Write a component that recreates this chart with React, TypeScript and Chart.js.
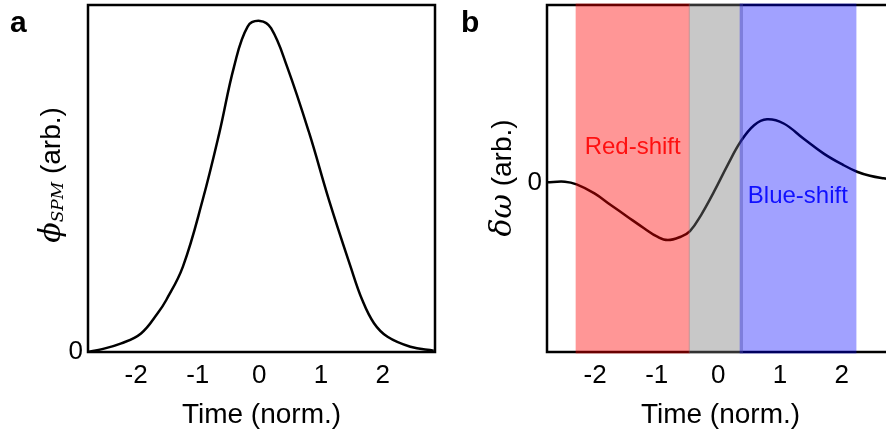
import React, { useEffect, useRef } from "react";
import { Chart, registerables } from "chart.js";

Chart.register(...registerables);

// Shared time axis
const TIME_MIN = -2.78;
const TIME_MAX = 2.85;
const TIME_TICKS = [-2, -1, 0, 1, 2];

// Panel a: self-phase-modulation phase vs time
const TIME_A = [-2.78, -2.57, -2.24, -1.92, -1.65, -1.51, -1.24, -0.92, -0.65, -0.41, -0.19, 0.01, 0.19, 0.45, 0.81, 1.13, 1.48, 1.67, 1.86, 2.08, 2.45, 2.83];
const PHI_SPM = [0, 0.008, 0.026, 0.056, 0.117, 0.157, 0.258, 0.459, 0.661, 0.862, 0.983, 1.0, 0.978, 0.862, 0.661, 0.459, 0.258, 0.157, 0.087, 0.046, 0.016, 0.004];
const PHI_MAX = 1.048;

// Panel b: instantaneous frequency shift vs time
const TIME_B = [-2.79, -2.49, -2.3, -2.01, -1.74, -1.47, -1.2, -0.99, -0.82, -0.61, -0.46, -0.28, -0.07, 0.15, 0.36, 0.58, 0.79, 1.06, 1.38, 1.71, 2.03, 2.25, 2.46, 2.68, 2.86];
const DELTA_OMEGA = [0.002, 0.006, -0.01, -0.063, -0.133, -0.202, -0.27, -0.319, -0.339, -0.319, -0.286, -0.191, -0.053, 0.104, 0.242, 0.34, 0.375, 0.35, 0.261, 0.172, 0.104, 0.065, 0.041, 0.026, 0.018];
const DW_MIN = -1;
const DW_MAX = 1.05;

// Shaded regions of panel b (time ranges)
const BAND_START = [-2.315, -0.48, 0.346];
const BAND_END = [-0.465, 0.4, 2.24];
const BAND_FILLS = ["rgba(255,0,0,0.41)", "rgba(122,122,122,0.41)", "rgba(0,0,255,0.37)"];

// Region labels in data coordinates
const REGION_TEXT = ["Red-shift", "Blue-shift"];
const REGION_T = [-1.39, 1.29];
const REGION_V = [0.207, -0.083];
const REGION_COLORS = ["#ff1010", "#1010ff"];

const SANS = '"Liberation Sans", Arial, sans-serif';
const SERIF = '"DejaVu Serif", "Liberation Serif", serif';

type Seg = { text: string; font: string; dy?: number };

function drawRotatedTitle(ctx: CanvasRenderingContext2D, cx: number, cy: number, segs: Seg[]) {
  ctx.save();
  ctx.translate(cx, cy);
  ctx.rotate(-Math.PI / 2);
  ctx.fillStyle = "#000";
  ctx.textBaseline = "middle";
  ctx.textAlign = "left";
  let total = 0;
  const widths = segs.map((s) => {
    ctx.font = s.font;
    const w = ctx.measureText(s.text).width;
    total += w;
    return w;
  });
  let x = -total / 2;
  segs.forEach((s, i) => {
    ctx.font = s.font;
    ctx.fillText(s.text, x, s.dy || 0);
    x += widths[i];
  });
  ctx.restore();
}

const framePlugin = {
  id: "frame",
  beforeDatasetsDraw(chart: any) {
    const { ctx, chartArea: a } = chart;
    ctx.save();
    ctx.strokeStyle = "#000";
    ctx.lineWidth = 2.5;
    ctx.strokeRect(a.left, a.top, a.right - a.left, a.bottom - a.top);
    ctx.restore();
  },
};

function baseOptions(yMin: number, yMax: number, yAxisWidth: number, rightPad: number) {
  return {
    responsive: false,
    animation: false,
    events: [],
    layout: { padding: { left: 0, right: rightPad, top: 5, bottom: 0 } },
    plugins: { legend: { display: false }, tooltip: { enabled: false } },
    scales: {
      x: {
        type: "linear",
        min: TIME_MIN,
        max: TIME_MAX,
        grid: { display: false, drawTicks: false },
        border: { display: false },
        afterBuildTicks: (s: any) => {
          s.ticks = TIME_TICKS.map((v) => ({ value: v }));
        },
        afterFit: (s: any) => {
          s.height = 83;
          s.paddingLeft = 0;
          s.paddingRight = 0;
        },
        ticks: {
          autoSkip: false,
          maxRotation: 0,
          padding: 8,
          color: "#000",
          font: { family: SANS, size: 26 },
          callback: (v: any) => String(v),
        },
        title: {
          display: true,
          text: "Time (norm.)",
          color: "#000",
          font: { family: SANS, size: 28 },
          padding: { top: 0, bottom: 3 },
        },
      },
      y: {
        type: "linear",
        min: yMin,
        max: yMax,
        grid: { display: false, drawTicks: false },
        border: { display: false },
        afterBuildTicks: (s: any) => {
          s.ticks = [{ value: 0 }];
        },
        afterFit: (s: any) => {
          s.width = yAxisWidth;
          s.paddingTop = 0;
          s.paddingBottom = 0;
        },
        ticks: {
          padding: 5,
          color: "#000",
          font: { family: SANS, size: 26 },
          callback: (v: any) => String(v),
        },
      },
    },
  };
}

export default function App() {
  const refA = useRef<HTMLCanvasElement>(null);
  const refB = useRef<HTMLCanvasElement>(null);

  useEffect(() => {
    const labelA = {
      id: "labelsA",
      afterDraw(chart: any) {
        const ctx = chart.ctx;
        ctx.save();
        ctx.fillStyle = "#000";
        ctx.font = `bold 30px ${SANS}`;
        ctx.textBaseline = "alphabetic";
        ctx.textAlign = "left";
        ctx.fillText("a", 10, 32);
        ctx.restore();
        drawRotatedTitle(ctx, 52, 175, [
          { text: "ϕ", font: `italic 30px ${SERIF}` },
          { text: "SPM", font: `italic 17px ${SERIF}`, dy: 7 },
          { text: " (arb.)", font: `28px ${SANS}` },
        ]);
      },
    };

    const chartA = new Chart(refA.current as HTMLCanvasElement, {
      type: "line",
      data: {
        datasets: [
          {
            data: TIME_A.map((t, i) => ({ x: t, y: PHI_SPM[i] })),
            borderColor: "#000",
            borderWidth: 2.5,
            pointRadius: 0,
            tension: 0.4,
            fill: false,
          },
        ],
      },
      options: baseOptions(0, PHI_MAX, 88, 5) as any,
      plugins: [framePlugin, labelA],
    });

    const bandsB = {
      id: "bandsB",
      afterDatasetsDraw(chart: any) {
        const { ctx, chartArea: a, scales } = chart;
        ctx.save();
        BAND_START.forEach((s, i) => {
          const x1 = scales.x.getPixelForValue(s);
          const x2 = scales.x.getPixelForValue(BAND_END[i]);
          ctx.fillStyle = BAND_FILLS[i];
          ctx.fillRect(x1, a.top - 1.5, x2 - x1, a.bottom - a.top + 3);
        });
        ctx.font = `24px ${SANS}`;
        ctx.textAlign = "center";
        ctx.textBaseline = "middle";
        REGION_TEXT.forEach((txt, i) => {
          ctx.fillStyle = REGION_COLORS[i];
          ctx.fillText(txt, scales.x.getPixelForValue(REGION_T[i]), scales.y.getPixelForValue(REGION_V[i]));
        });
        ctx.restore();
      },
      afterDraw(chart: any) {
        const ctx = chart.ctx;
        ctx.save();
        ctx.fillStyle = "#000";
        ctx.font = `bold 30px ${SANS}`;
        ctx.textBaseline = "alphabetic";
        ctx.textAlign = "left";
        ctx.fillText("b", 21, 32);
        ctx.restore();
        drawRotatedTitle(ctx, 63, 178, [
          { text: "δω", font: `italic 30px ${SERIF}` },
          { text: " (arb.)", font: `28px ${SANS}` },
        ]);
      },
    };

    const chartB = new Chart(refB.current as HTMLCanvasElement, {
      type: "line",
      data: {
        datasets: [
          {
            data: TIME_B.map((t, i) => ({ x: t, y: DELTA_OMEGA[i] })),
            borderColor: "#000",
            borderWidth: 2.5,
            pointRadius: 0,
            tension: 0.4,
            fill: false,
          },
        ],
      },
      options: baseOptions(DW_MIN, DW_MAX, 107, 6) as any,
      plugins: [framePlugin, bandsB],
    });

    return () => {
      chartA.destroy();
      chartB.destroy();
    };
  }, []);

  return (
    <div
      style={{
        position: "absolute",
        left: 0,
        top: 0,
        width: 886,
        height: 435,
        overflow: "hidden",
        background: "#fff",
      }}
    >
      <canvas
        ref={refA}
        width={440}
        height={435}
        style={{ position: "absolute", left: 0, top: 0, width: 440, height: 435 }}
      />
      <canvas
        ref={refB}
        width={460}
        height={435}
        style={{ position: "absolute", left: 440, top: 0, width: 460, height: 435 }}
      />
    </div>
  );
}
